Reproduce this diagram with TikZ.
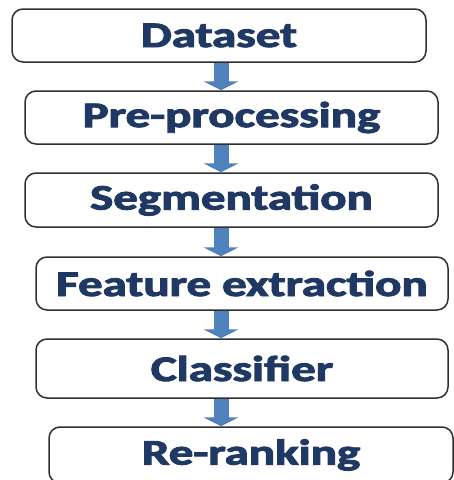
\documentclass[tikz,border=0pt]{standalone}
\usepackage{fontspec}
\setmainfont{Carlito}[BoldFeatures={FakeBold=2.5}]
\usetikzlibrary{arrows.meta}
\definecolor{arrowblue}{HTML}{4F81BD}
\definecolor{textnavy}{HTML}{1F3864}
\definecolor{boxline}{HTML}{303030}
\newcommand{\widetext}[1]{\scalebox{1.36}[1]{#1}}
\tikzset{
  stagebox/.style={draw=boxline, line width=1.5pt, rounded corners=11pt,
    fill=white, inner sep=0pt, text=textnavy,
    font=\fontsize{36}{40}\selectfont\bfseries},
  bigarrow/.style={draw=arrowblue, line width=15pt,
    -{Triangle[width=35pt,length=9pt]}}
}
\begin{document}
\begin{tikzpicture}[x=1pt,y=-1pt]
\useasboundingbox (0,0) rectangle (454,480);
\clip (0,0) rectangle (454,480);
\fill[white] (0,0) rectangle (454,480);
\node[stagebox, minimum width=414pt, minimum height=53pt] (b1) at (219,35.5) {\widetext{Dataset}};
\node[stagebox, minimum width=413pt, minimum height=53pt] (b2) at (231.5,117.5) {\widetext{Pre-processing}};
\node[stagebox, minimum width=413pt, minimum height=54pt] (b3) at (231.5,200) {\widetext{Segmentation}};
\node[stagebox, minimum width=412pt, minimum height=53pt] (b4) at (242,283.5) {\widetext{Feature extraction}};
\node[stagebox, minimum width=412pt, minimum height=59pt] (b5) at (242,368.5) {\widetext{Classifier}};
\node[stagebox, minimum width=404pt, minimum height=56pt] (b6) at (251,455) {\widetext{Re-ranking}};
\coordinate (ax) at (221,0);
\draw[bigarrow] (b1.south -| ax) -- (b2.north -| ax);
\draw[bigarrow] (b2.south -| ax) -- (b3.north -| ax);
\draw[bigarrow] (b3.south -| ax) -- (b4.north -| ax);
\draw[bigarrow] (b4.south -| ax) -- (b5.north -| ax);
\draw[bigarrow] (b5.south -| ax) -- (b6.north -| ax);
\end{tikzpicture}
\end{document}
